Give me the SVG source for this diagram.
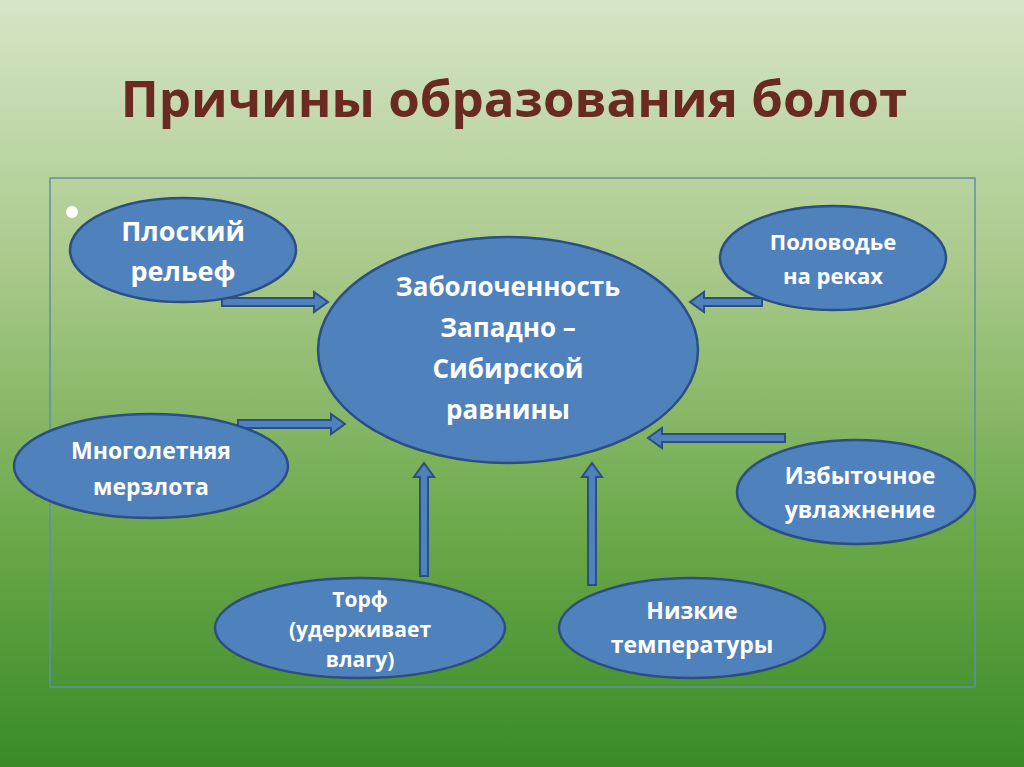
<svg xmlns="http://www.w3.org/2000/svg" width="1024" height="767" viewBox="0 0 1024 767">
<defs>
<linearGradient id="bg" x1="0" y1="0" x2="0" y2="1">
<stop offset="0" stop-color="#d6e5c6"/><stop offset="0.35" stop-color="#a9c98a"/><stop offset="0.7" stop-color="#6aa849"/><stop offset="1" stop-color="#3a8a28"/>
</linearGradient>
<style>
.n{fill:#4f81bd;stroke:#2b4f82;stroke-width:2.5}
.a{fill:#4f81bd;stroke:#2b4f82;stroke-width:2;stroke-linejoin:miter}
text{font-family:"Open Sans","DejaVu Sans",sans-serif;font-weight:bold;fill:#fff;text-anchor:middle}
.t0{font-size:27px}.t1{font-size:26px}.t2{font-size:23px}.t3{font-size:21px}
</style>
</defs>
<rect width="1024" height="767" fill="url(#bg)"/>
<text x="514" y="117" style="font-size:51px;fill:#6b2a1f;font-family:'Open Sans','DejaVu Sans',sans-serif">Причины образования болот</text>
<rect x="50" y="178" width="925" height="509" fill="none" stroke="#5f8fa8" stroke-width="1.5"/>
<circle cx="72" cy="212" r="6" fill="#fff"/>
<g id="connectors">
<polygon class="a" points="222,298 314,298 314,292 328,302 314,312 314,306 222,306"/>
<polygon class="a" points="238,420 331,420 331,414 345,424 331,434 331,428 238,428"/>
<polygon class="a" points="762,298 704,298 704,292 690,302 704,312 704,306 762,306"/>
<polygon class="a" points="785,434 662,434 662,428 648,438 662,448 662,442 785,442"/>
<polygon class="a" points="420,576 420,477 414,477 424,463 434,477 428,477 428,576"/>
<polygon class="a" points="588,585 588,477 582,477 592,463 602,477 596,477 596,585"/>
</g>
<g id="n1"><ellipse class="n" cx="183" cy="250" rx="113" ry="52"/><text class="t0" x="183" y="241">Плоский</text><text class="t0" x="183" y="281">рельеф</text></g>
<g id="center"><ellipse class="n" cx="508" cy="350" rx="190" ry="113"/><text class="t1" x="508" y="296">Заболоченность</text><text class="t1" x="508" y="337">Западно –</text><text class="t1" x="508" y="378">Сибирской</text><text class="t1" x="508" y="419">равнины</text></g>
<g id="n2"><ellipse class="n" cx="833" cy="258" rx="113" ry="52"/><text x="833" y="250" style="font-size:22px">Половодье</text><text x="833" y="284" style="font-size:22px">на реках</text></g>
<g id="n3"><ellipse class="n" cx="151" cy="466" rx="137" ry="52"/><text class="t2" x="151" y="459">Многолетняя</text><text class="t2" x="151" y="495">мерзлота</text></g>
<g id="n4"><ellipse class="n" cx="856" cy="492" rx="119" ry="52"/><text class="t2" x="860" y="484">Избыточное</text><text class="t2" x="860" y="518">увлажнение</text></g>
<g id="n5"><ellipse class="n" cx="360" cy="628" rx="145" ry="50"/><text class="t3" x="360" y="607">Торф</text><text class="t3" x="360" y="637">(удерживает</text><text class="t3" x="360" y="667">влагу)</text></g>
<g id="n6"><ellipse class="n" cx="692" cy="628" rx="133" ry="50"/><text class="t2" x="692" y="619">Низкие</text><text class="t2" x="692" y="653">температуры</text></g>
</svg>
